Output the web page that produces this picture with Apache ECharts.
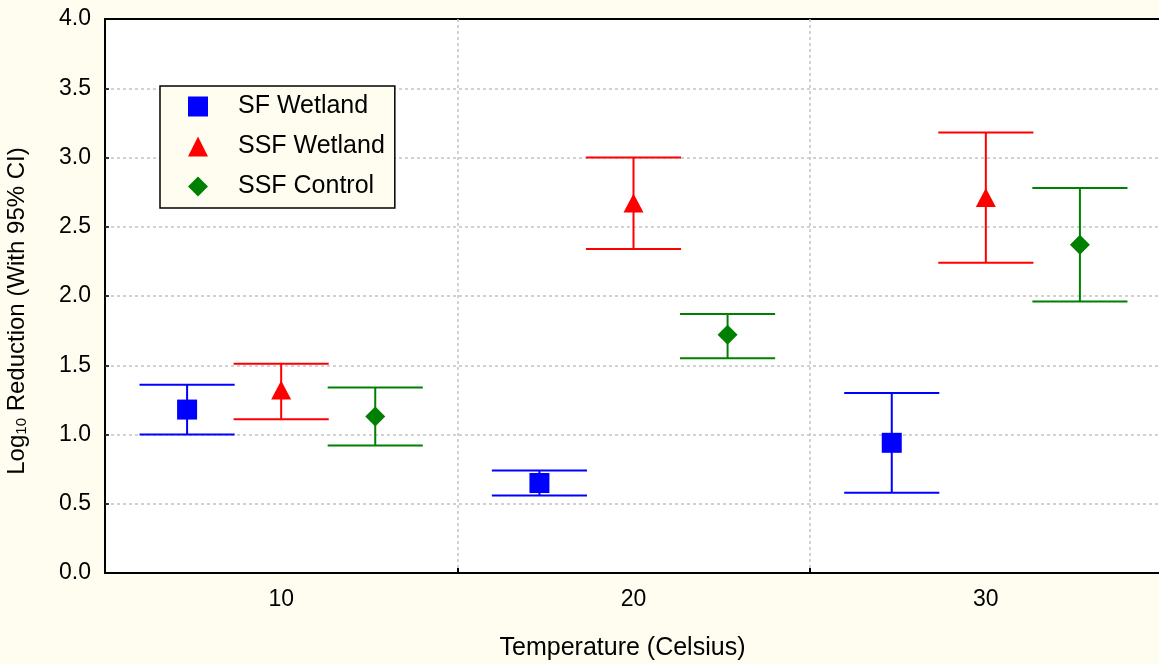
<!DOCTYPE html>
<html>
<head>
<meta charset="utf-8">
<script src="https://cdn.jsdelivr.net/npm/echarts@6/dist/echarts.min.js"></script>
<style>
html, body { margin: 0; padding: 0; background: #fffdf0; }
#chart { width: 1159px; height: 664px; }
</style>
</head>
<body>
<div id="chart"></div>
<script>
var categories = ['10', '20', '30'];
var yTicks = [0, 0.5, 1.0, 1.5, 2.0, 2.5, 3.0, 3.5, 4.0];

var sfMean = [1.18, 0.65, 0.94];
var sfLow = [1.00, 0.56, 0.58];
var sfHigh = [1.36, 0.74, 1.30];

var ssfMean = [1.31, 2.66, 2.70];
var ssfLow = [1.11, 2.34, 2.24];
var ssfHigh = [1.51, 3.00, 3.18];

var ctlMean = [1.13, 1.72, 2.37];
var ctlLow = [0.92, 1.55, 1.96];
var ctlHigh = [1.34, 1.87, 2.78];

function rows(mean, low, high) {
    var out = [];
    for (var i = 0; i < categories.length; i++) {
        out.push([i, mean[i], high[i], low[i]]);
    }
    return out;
}

function markerShape(kind, x, y, color) {
    var s = 10;
    if (kind === 'square') {
        return { type: 'rect', shape: { x: x - s, y: y - s, width: 2 * s, height: 2 * s }, style: { fill: color } };
    }
    if (kind === 'triangle') {
        return { type: 'polygon', shape: { points: [[x, y - 11], [x + 10, y + 8], [x - 10, y + 8]] }, style: { fill: color } };
    }
    return { type: 'polygon', shape: { points: [[x, y - 10], [x + 10, y], [x, y + 10], [x - 10, y]] }, style: { fill: color } };
}

function errorItem(offset, kind, color) {
    return function (params, api) {
        var cat = api.value(0);
        var mid = api.coord([cat, api.value(1)]);
        var yHi = api.coord([cat, api.value(2)])[1];
        var yLo = api.coord([cat, api.value(3)])[1];
        var bw = api.size([1, 0])[0];
        var x = mid[0] + offset * bw;
        var hw = bw * 0.135;
        var ls = { stroke: color, lineWidth: 2 };
        return {
            type: 'group',
            children: [
                { type: 'line', shape: { x1: x, y1: yHi, x2: x, y2: yLo }, style: ls },
                { type: 'line', shape: { x1: x - hw, y1: yHi, x2: x + hw, y2: yHi }, style: ls },
                { type: 'line', shape: { x1: x - hw, y1: yLo, x2: x + hw, y2: yLo }, style: ls },
                markerShape(kind, x, mid[1], color)
            ]
        };
    };
}

var gridLine = { color: '#c4c4c4', type: [3, 3], width: 1.5 };

var chart = echarts.init(document.getElementById('chart'));
var option = {
    backgroundColor: '#fffdf0',
    animation: false,
    textStyle: { fontFamily: 'Liberation Sans, Arial, sans-serif' },
    grid: {
        left: 105, top: 19, width: 1057, height: 554,
        outerBoundsMode: 'none',
        containLabel: false,
        show: true, backgroundColor: '#ffffff', borderColor: '#000', borderWidth: 2
    },
    legend: {
        orient: 'vertical',
        left: 160, top: 86,
        padding: [8, 10, 9, 28],
        itemGap: 15,
        itemWidth: 20, itemHeight: 20,
        backgroundColor: '#fffdf0',
        borderColor: '#000', borderWidth: 1.5, borderRadius: 0,
        textStyle: {
            fontSize: 25, lineHeight: 25, color: '#000',
            padding: [0, 0, 0, 25], fontFamily: 'Liberation Sans, Arial, sans-serif'
        },
        data: [
            { name: 'SF Wetland', icon: 'rect' },
            { name: 'SSF Wetland', icon: 'triangle' },
            { name: 'SSF Control', icon: 'diamond' }
        ]
    },
    xAxis: {
        type: 'category',
        data: categories,
        boundaryGap: true,
        name: 'Temperature (Celsius)',
        nameLocation: 'middle',
        nameGap: 63,
        nameTextStyle: { fontSize: 25, color: '#000', padding: [0, 22, 0, 0] },
        axisLine: { show: false },
        axisTick: { show: true, inside: true, length: 5, lineStyle: { color: '#000', width: 2 } },
        axisLabel: { fontSize: 23, color: '#000', margin: 15 },
        splitLine: { show: true, showMinLine: false, showMaxLine: false, lineStyle: gridLine }
    },
    yAxis: {
        type: 'value',
        min: 0, max: 4, interval: 0.5,
        name: '{a|Log}{sub|10}{a| Reduction (With 95% CI)}',
        nameLocation: 'middle',
        nameGap: 74,
        nameTextStyle: {
            color: '#000',
            padding: [0, 30, 0, 0],
            rich: {
                a: { fontSize: 24, color: '#000', lineHeight: 28 },
                sub: { fontSize: 15, color: '#000', lineHeight: 28, padding: [10, 0, 0, 0] }
            }
        },
        axisLine: { show: false },
        axisTick: { show: true, inside: true, length: 4, lineStyle: { color: '#000', width: 1.5 } },
        axisLabel: {
            fontSize: 23, color: '#000', margin: 14,
            formatter: function (v) { return yTicks.indexOf(v) >= 0 ? v.toFixed(1) : ''; }
        },
        splitLine: { show: true, showMinLine: false, showMaxLine: false, lineStyle: gridLine }
    },
    series: [
        {
            name: 'SF Wetland', type: 'custom', itemStyle: { color: '#0000ff' },
            renderItem: errorItem(-0.267, 'square', '#0000ff'),
            encode: { x: 0, y: [1, 2, 3] },
            data: rows(sfMean, sfLow, sfHigh)
        },
        {
            name: 'SSF Wetland', type: 'custom', itemStyle: { color: '#ff0000' },
            renderItem: errorItem(0, 'triangle', '#ff0000'),
            encode: { x: 0, y: [1, 2, 3] },
            data: rows(ssfMean, ssfLow, ssfHigh)
        },
        {
            name: 'SSF Control', type: 'custom', itemStyle: { color: '#008000' },
            renderItem: errorItem(0.267, 'diamond', '#008000'),
            encode: { x: 0, y: [1, 2, 3] },
            data: rows(ctlMean, ctlLow, ctlHigh)
        }
    ]
};
chart.setOption(option);
</script>
</body>
</html>
